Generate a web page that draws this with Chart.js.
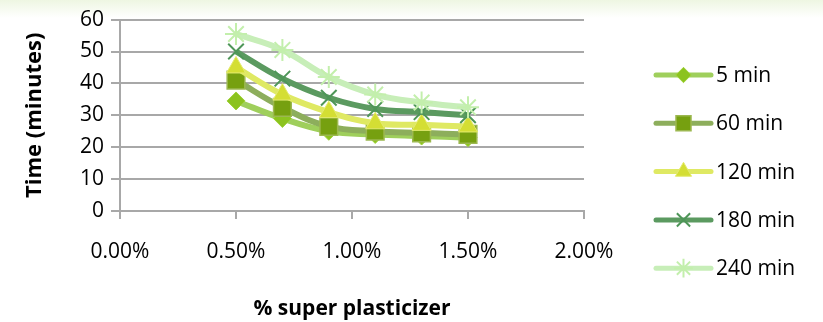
<!DOCTYPE html>
<html>
<head>
<meta charset="utf-8">
<script src="https://cdn.jsdelivr.net/npm/chart.js@4.4.1/dist/chart.umd.min.js"></script>
<style>
  html, body { margin: 0; padding: 0; }
  body {
    width: 823px; height: 322px; overflow: hidden;
    background: linear-gradient(to bottom, #eef6e2 0px, #ffffff 18px);
  }
  #wrap { position: relative; width: 823px; height: 322px; }
</style>
</head>
<body>
<div id="wrap"><canvas id="spChart"></canvas></div>
<script>
// dosage of super plasticizer (fraction) and setting time per series
const doses = [0.005, 0.007, 0.009, 0.011, 0.013, 0.015];
const seriesNames = ['5 min', '60 min', '120 min', '180 min', '240 min'];
const time5 = [34.5, 29, 25, 24, 23.5, 23];
const time60 = [41, 32.5, 26.5, 25, 24.5, 24];
const time120 = [45, 36.5, 31, 27.5, 27, 26.5];
const time180 = [50, 41.5, 35.5, 32, 31, 30];
const time240 = [55.5, 50.5, 42, 36.5, 34, 32.5];
const xTicks = [0, 0.005, 0.01, 0.015, 0.02];

const FONT = "'Open Sans', sans-serif";

const styles = [
  { line: '#9fcf5c', fill: '#8cc31f', border: '#9fd23a', point: 'rectRot', r: 9, bw: 1 },
  { line: '#8dae5c', fill: '#76a010', border: '#9cb850', point: 'rect', r: 12.5, bw: 1.5 },
  { line: '#dfe963', fill: '#d4de34', border: '#e4eb70', point: 'triangle', r: 11, bw: 1 },
  { line: '#5b9a60', fill: '#4e9658', border: '#4e9658', point: 'crossRot', r: 11, bw: 2 },
  { line: '#c7eeb8', fill: '#c3efac', border: '#c3efac', point: 'star', r: 11, bw: 2 }
];

const values = [time5, time60, time120, time180, time240];

const datasets = values.map((vals, i) => ({
  label: seriesNames[i],
  data: vals.map((v, k) => ({ x: doses[k], y: v })),
  borderColor: styles[i].line,
  borderWidth: 6,
  tension: 0.4,
  pointStyle: styles[i].point,
  pointRadius: styles[i].r,
  pointBackgroundColor: styles[i].fill,
  pointBorderColor: styles[i].border,
  pointBorderWidth: styles[i].bw,
  order: values.length - 1 - i
}));

// legend on the right: line segment with marker, then the label
const sideLegend = {
  id: 'sideLegend',
  afterDraw(chart) {
    const ctx = chart.ctx;
    const x0 = 656, x1 = 711, top = 75, gap = 48.3;
    ctx.save();
    seriesNames.forEach((name, i) => {
      const y = top + i * gap;
      const s = styles[i];
      ctx.strokeStyle = s.line;
      ctx.lineWidth = 5;
      ctx.lineCap = 'round';
      ctx.beginPath();
      ctx.moveTo(x0, y);
      ctx.lineTo(x1, y);
      ctx.stroke();
      ctx.fillStyle = s.fill;
      ctx.strokeStyle = s.border;
      ctx.lineWidth = s.bw;
      ctx.lineCap = 'butt';
      Chart.helpers.drawPoint(ctx, { pointStyle: s.point, radius: s.r * 0.85, borderWidth: s.bw }, (x0 + x1) / 2, y);
      ctx.fillStyle = '#000';
      ctx.font = '21px ' + FONT;
      ctx.textAlign = 'left';
      ctx.textBaseline = 'middle';
      ctx.fillText(name, 716, y + 1);
    });
    ctx.restore();
  }
};

new Chart(document.getElementById('spChart'), {
  type: 'line',
  data: { datasets },
  options: {
    responsive: true,
    maintainAspectRatio: false,
    animation: false,
    layout: { padding: { top: 19, right: 239, bottom: 0, left: 22 } },
    plugins: {
      legend: { display: false },
      tooltip: { enabled: false }
    },
    scales: {
      x: {
        type: 'linear',
        min: 0,
        max: 0.02,
        afterBuildTicks: (scale) => { scale.ticks = xTicks.map(v => ({ value: v })); },
        afterFit: (scale) => { scale.height = 111; },
        grid: { drawOnChartArea: false, drawTicks: true, tickLength: 8, color: '#a8a8a8', lineWidth: 2 },
        border: { display: true, color: '#a8a8a8', width: 2 },
        ticks: {
          padding: 20,
          color: '#000',
          font: { family: FONT, size: 21 },
          maxRotation: 0,
          callback: (v) => (v * 100).toFixed(2) + '%'
        },
        title: {
          display: true,
          text: '% super plasticizer',
          color: '#000',
          font: { family: FONT, size: 21, weight: 'bold' },
          padding: { top: 0, bottom: 0 }
        }
      },
      y: {
        min: 0,
        max: 60,
        afterFit: (scale) => { scale.width = 98; },
        grid: { color: '#a8a8a8', lineWidth: 2, drawTicks: true, tickLength: 9 },
        border: { display: true, color: '#a8a8a8', width: 2 },
        ticks: {
          stepSize: 10,
          padding: 7,
          color: '#000',
          font: { family: FONT, size: 21 }
        },
        title: {
          display: true,
          text: 'Time (minutes)',
          color: '#000',
          font: { family: FONT, size: 22, weight: 'bold' },
          padding: { top: 0, bottom: 0 }
        }
      }
    }
  },
  plugins: [sideLegend]
});
</script>
</body>
</html>
